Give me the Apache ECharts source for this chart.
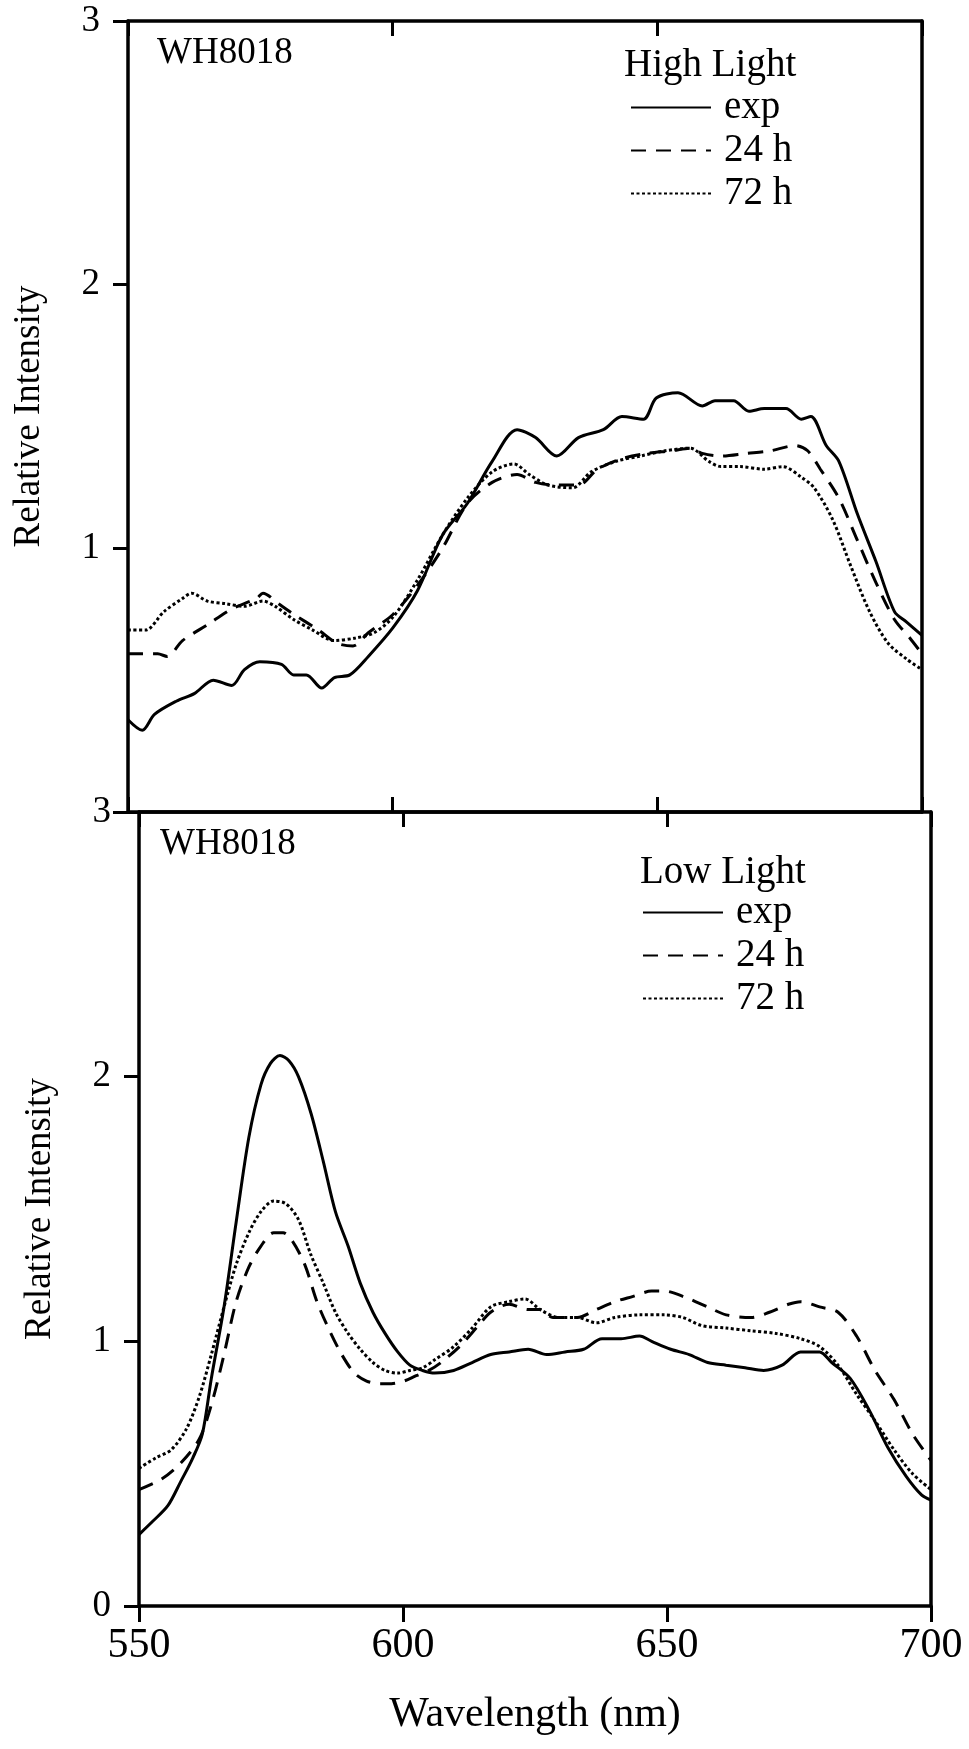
<!DOCTYPE html>
<html>
<head>
<meta charset="utf-8">
<script src="https://cdn.jsdelivr.net/npm/echarts/dist/echarts.min.js"></script>
<style>
  html, body { margin: 0; padding: 0; background: #fff; }
  #chart { width: 969px; height: 1749px; }
</style>
</head>
<body>
<div id="chart"></div>
<script>
// ---------- DATA ----------
const xTicks = [550, 600, 650, 700];
const yTicks = [0, 1, 2, 3];
const seriesNames = ['exp', '24 h', '72 h'];

// High Light panel
const hlExpWl = [550,552.7,555,559.1,562.6,566.1,569.6,572,574.9,579,581.3,583.7,586.6,589,591.9,595.4,600.1,604.7,609.4,614.1,618.8,623.5,627,631,635.1,639.8,643.3,647.4,649.8,653.9,658.5,660.9,664.4,667.3,670.2,674.3,677.2,679,681.9,684.3,687.8,691.3,694.8,697.1,700];
const hlExp   = [0.35,0.31,0.37,0.42,0.45,0.50,0.48,0.54,0.57,0.56,0.52,0.52,0.47,0.51,0.52,0.59,0.70,0.84,1.05,1.17,1.33,1.45,1.42,1.35,1.42,1.45,1.50,1.49,1.57,1.59,1.54,1.56,1.56,1.52,1.53,1.53,1.49,1.50,1.39,1.33,1.13,0.95,0.76,0.72,0.67];

const hl24Wl = [550,555.6,557.4,560.3,565,569.6,574.3,575.5,578.4,581.3,586,589.5,592.5,595.4,600.1,604.7,609.4,614.1,618.8,623.5,627,630.5,635.1,638.7,643.3,648,652.7,656.2,658.5,662,666.7,671.4,676.1,678.4,680.8,684.3,687.8,691.3,694.8,697.7,700];
const hl24   = [0.60,0.60,0.59,0.65,0.71,0.77,0.81,0.83,0.79,0.75,0.69,0.64,0.63,0.68,0.75,0.86,1.0,1.17,1.25,1.28,1.25,1.24,1.24,1.30,1.34,1.36,1.37,1.38,1.36,1.35,1.36,1.37,1.39,1.37,1.30,1.19,1.03,0.87,0.73,0.66,0.60];

const hl72Wl = [550,553.3,556.8,560.3,562,565,568.5,572,575.5,577.8,581.3,584.9,588.9,593,596.5,600.1,604.7,609.4,614.1,618.8,622.9,625.8,629.3,634,637.5,642.2,646.8,651.5,656.2,659.7,662,665.6,670.2,673.7,677.2,679.6,683.1,686.6,690.1,693.6,697.1,700];
const hl72   = [0.69,0.69,0.76,0.81,0.83,0.80,0.79,0.78,0.80,0.78,0.73,0.69,0.65,0.66,0.68,0.74,0.88,1.05,1.19,1.29,1.32,1.28,1.24,1.23,1.29,1.33,1.35,1.37,1.38,1.33,1.31,1.31,1.30,1.31,1.27,1.23,1.11,0.93,0.76,0.64,0.58,0.54];

// Low Light panel
const llExpWl = [550,552.6,555.5,557.9,560.2,562,563.7,566.1,568.4,570.8,573.1,574.9,576.7,578.4,580.2,582.6,584.9,587.2,589.6,591.9,594.3,596.6,599,601.3,603.7,606,609.6,613.1,616.6,620.1,623.7,627.2,630.7,634.2,637.7,641.3,644.8,647.1,650.7,654.2,657.7,661.2,664.8,668.3,671.8,675.3,678.9,681.2,684.7,688.3,691.8,695.3,698.2,700];
const llExp   = [0.27,0.32,0.38,0.47,0.56,0.65,0.86,1.13,1.45,1.77,1.97,2.05,2.08,2.06,2.00,1.86,1.68,1.49,1.36,1.22,1.11,1.03,0.96,0.91,0.89,0.88,0.89,0.92,0.95,0.96,0.97,0.95,0.96,0.97,1.01,1.01,1.02,1.00,0.97,0.95,0.92,0.91,0.90,0.89,0.91,0.96,0.96,0.92,0.86,0.74,0.60,0.49,0.42,0.40];

const ll24Wl = [550,554.3,557.9,561.4,563.7,566.1,568.4,570.8,573.1,575.5,577.3,579,581.4,583.7,586.1,588.4,590.8,593.1,595.5,597.8,600.2,602.5,604.9,607.2,610.7,614.3,616.6,620.1,623.7,626,628.4,633,636.6,640.1,643.6,647.1,649.5,653,657.7,661.2,665.9,669.4,673,675.3,678.9,682.4,685.9,689.4,693,696.5,700];
const ll24   = [0.44,0.48,0.54,0.63,0.76,0.95,1.15,1.28,1.36,1.41,1.41,1.38,1.29,1.15,1.04,0.95,0.88,0.85,0.84,0.84,0.85,0.87,0.89,0.92,0.98,1.06,1.11,1.14,1.12,1.12,1.09,1.09,1.12,1.15,1.17,1.19,1.19,1.17,1.13,1.10,1.09,1.11,1.14,1.15,1.13,1.11,1.02,0.89,0.78,0.65,0.55];

const ll72Wl = [550,553.2,556.1,559,561.4,563.7,566.1,568.4,570.8,573.1,575.5,577.8,580.2,582.5,584.9,587.2,589.6,591.9,594.3,596.6,599,601.3,603.7,606,609.6,613.1,616.6,620.1,623.1,626,629.5,633,636.6,640.1,644.8,649.5,653,656.5,661.2,665.9,670.6,675.3,678.9,682.4,685.9,689.4,693,696.5,700];
const ll72   = [0.52,0.56,0.59,0.67,0.79,0.95,1.13,1.29,1.41,1.49,1.53,1.52,1.46,1.33,1.22,1.11,1.03,0.97,0.92,0.89,0.88,0.89,0.90,0.93,0.98,1.05,1.13,1.15,1.16,1.12,1.09,1.09,1.07,1.09,1.10,1.10,1.09,1.06,1.05,1.04,1.03,1.01,0.98,0.91,0.80,0.70,0.59,0.50,0.44];

// ---------- CHART ----------
const FONT = 'Liberation Serif';
const BLACK = '#000';
const zip = (xs, ys) => xs.map((x, i) => [x, ys[i]]);

const styles = {
  'exp':  { type: 'solid', width: 3 },
  '24 h': { type: [15, 10], width: 3 },
  '72 h': { type: [3, 2.5], width: 3 }
};

const txt = (size) => ({ color: BLACK, fontFamily: FONT, fontSize: size, fontWeight: 'normal' });

function xAx(grid, pos, opts) {
  return Object.assign({
    gridIndex: grid, type: 'value', position: pos,
    min: xTicks[0], max: xTicks[xTicks.length - 1], interval: 50,
    axisLine: { onZero: false, lineStyle: { color: BLACK, width: 3.5 } },
    axisTick: { inside: true, length: 15, lineStyle: { color: BLACK, width: 3 } },
    axisLabel: { show: false },
    splitLine: { show: false }
  }, opts || {});
}
function yAx(grid, pos, opts) {
  return Object.assign({
    gridIndex: grid, type: 'value', position: pos,
    min: yTicks[0], max: yTicks[yTicks.length - 1], interval: 1,
    axisLine: { show: true, onZero: false, lineStyle: { color: BLACK, width: 3.5 } },
    axisTick: { show: false },
    axisLabel: { show: false },
    splitLine: { show: false }
  }, opts || {});
}

const yLeftCommon = (hideZero) => ({
  axisTick: { show: true, inside: false, length: 15, lineStyle: { color: BLACK, width: 3 } },
  axisLabel: Object.assign(txt(37), {
    show: true, margin: 28,
    formatter: v => (hideZero && v === 0) ? '' : String(v)
  }),
  name: 'Relative Intensity', nameLocation: 'middle', nameGap: 80,
  nameTextStyle: txt(37)
});

function mkSeries(name, xi, yi, xs, ys) {
  return {
    name, type: 'line', xAxisIndex: xi, yAxisIndex: yi,
    data: zip(xs, ys), symbol: 'none', showSymbol: false, smooth: 0.3,
    lineStyle: Object.assign({ color: BLACK }, styles[name]),
    itemStyle: { color: BLACK },
    silent: true, animation: false
  };
}

function mkLegend(left, top) {
  return {
    data: seriesNames, orient: 'vertical', left, top,
    itemWidth: 80, itemHeight: 14, itemGap: 4, padding: 0,
    selectedMode: false,
    itemStyle: { opacity: 0, borderWidth: 0 },
    textStyle: Object.assign(txt(39), { lineHeight: 36, padding: [0, 0, 0, 8] })
  };
}

const option = {
  backgroundColor: '#fff',
  animation: false,
  textStyle: { fontFamily: FONT, color: BLACK },
  grid: [
    { left: 128, top: 21, width: 794, height: 791 },
    { left: 139, top: 812, width: 792, height: 794 }
  ],
  xAxis: [
    xAx(0, 'bottom'),
    xAx(0, 'top'),
    xAx(1, 'bottom', {
      axisTick: { inside: false, length: 16, lineStyle: { color: BLACK, width: 3 } },
      axisLabel: Object.assign(txt(42), { show: true, margin: 19 }),
      name: 'Wavelength (nm)', nameLocation: 'middle', nameGap: 88,
      nameTextStyle: txt(42)
    }),
    xAx(1, 'top')
  ],
  yAxis: [
    yAx(0, 'left', yLeftCommon(true)),
    yAx(0, 'right'),
    yAx(1, 'left', yLeftCommon(false)),
    yAx(1, 'right')
  ],
  legend: [mkLegend(630, 88), mkLegend(642, 893)],
  graphic: [
    { type: 'text', x: 157, y: 53, style: { text: 'WH8018', font: '37px "Liberation Serif"', fill: BLACK, verticalAlign: 'middle' } },
    { type: 'text', x: 624, y: 66, style: { text: 'High Light', font: '39px "Liberation Serif"', fill: BLACK, verticalAlign: 'middle' } },
    { type: 'text', x: 160, y: 844, style: { text: 'WH8018', font: '37px "Liberation Serif"', fill: BLACK, verticalAlign: 'middle' } },
    { type: 'text', x: 640, y: 873, style: { text: 'Low Light', font: '39px "Liberation Serif"', fill: BLACK, verticalAlign: 'middle' } }
  ],
  series: [
    mkSeries('exp', 0, 0, hlExpWl, hlExp),
    mkSeries('24 h', 0, 0, hl24Wl, hl24),
    mkSeries('72 h', 0, 0, hl72Wl, hl72),
    mkSeries('exp', 2, 2, llExpWl, llExp),
    mkSeries('24 h', 2, 2, ll24Wl, ll24),
    mkSeries('72 h', 2, 2, ll72Wl, ll72)
  ]
};

const chart = echarts.init(document.getElementById('chart'), null, { renderer: 'canvas' });
chart.setOption(option);
</script>
</body>
</html>
